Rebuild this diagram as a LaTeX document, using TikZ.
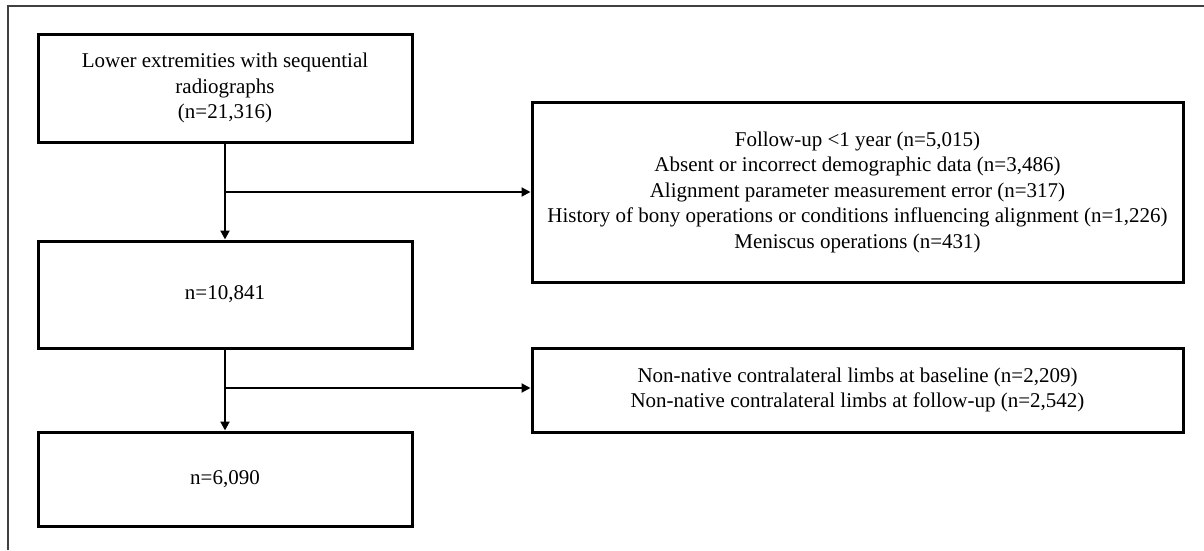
\documentclass[tikz,border=0pt]{standalone}
\usepackage{fontspec}
\setmainfont{Liberation Serif}
\usetikzlibrary{arrows.meta}
\begin{document}
\begin{tikzpicture}[x=1pt,y=-1pt,
  box/.style={draw=black, line width=3pt, align=center, inner sep=0pt,
    font=\fontsize{21}{25.5}\selectfont},
  conn/.style={draw=black, line width=2pt},
  arr/.style={conn, -{Triangle[length=9pt,width=9pt]}}]
\useasboundingbox (0,0) rectangle (1204,550);
\draw[black!75, line width=1.3pt] (8,550) -- (8,6) -- (1204,6);
\node[box, minimum width=374pt, minimum height=108pt] (b1) at (225,88)
  {Lower extremities with sequential\\radiographs\\(n=21,316)};
\node[box, minimum width=374pt, minimum height=107pt] (b2) at (225,294.5)
  {n=10,841};
\node[box, minimum width=374pt, minimum height=94pt] (b3) at (225,479)
  {n=6,090};
\node[box, minimum width=651pt, minimum height=180pt] (ba) at (857.5,192)
  {Follow-up <1 year (n=5,015)\\
   Absent or incorrect demographic data (n=3,486)\\
   Alignment parameter measurement error (n=317)\\
   History of bony operations or conditions influencing alignment (n=1,226)\\
   Meniscus operations (n=431)};
\node[box, minimum width=651pt, minimum height=84pt] (bb) at (857.5,390)
  {Non-native contralateral limbs at baseline (n=2,209)\\
   Non-native contralateral limbs at follow-up (n=2,542)};
\coordinate (j1) at (225,192);
\coordinate (j2) at (225,388);
\draw[arr] (b1) -- (b2);
\draw[arr] (j1) -- (j1 -| ba.west);
\draw[arr] (b2) -- (b3);
\draw[arr] (j2) -- (j2 -| bb.west);
\end{tikzpicture}
\end{document}
